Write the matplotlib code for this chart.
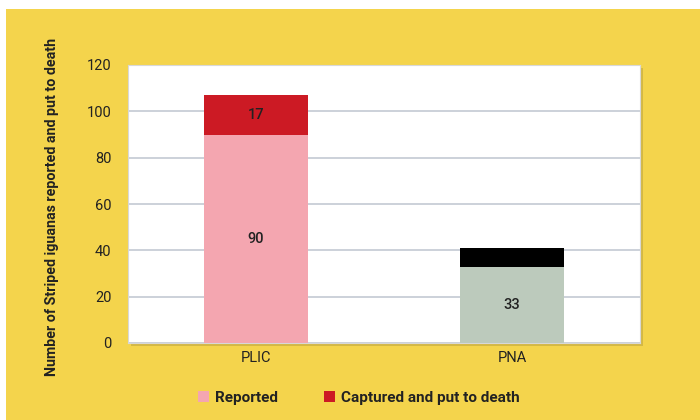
import matplotlib
matplotlib.use("Agg")
import matplotlib.pyplot as plt
from matplotlib.patches import Rectangle, Patch

plt.rcParams['font.family'] = ['Roboto', 'DejaVu Sans']

categories = ["PLIC", "PNA"]
reported = [90, 33]
captured = [17, 8]
reported_labels = ["90", "33"]
captured_labels = ["17", ""]
yticks = [0, 20, 40, 60, 80, 100, 120]
ylabel = "Number of Striped iguanas reported and put to death"
legend_labels = ["Reported", "Captured and put to death"]

reported_colors = ["#F4A6B0", "#BCCABC"]
captured_colors = ["#CC1A24", "#000000"]
bg = "#F4D44C"
txt = "#222222"

fig = plt.figure(figsize=(7, 4.2), dpi=100, facecolor="white")
fig.patches.append(Rectangle((6/700, 0), 1, 1 - 9/420, transform=fig.transFigure,
                             facecolor=bg, edgecolor="none", zorder=-2))
l, b, w, h = 128/700, 77/420, 512/700, 278/420
# shadow
fig.patches.append(Rectangle((l + 2.5/700, b - 2.5/420), w, h, transform=fig.transFigure,
                             facecolor="#D4B844", edgecolor="none", zorder=-1))
ax = fig.add_axes([l, b, w, h])
ax.set_zorder(1)
ax.set_facecolor("white")

x = list(range(len(categories)))
ax.bar(x, reported, width=0.405, color=reported_colors, zorder=3)
ax.bar(x, captured, bottom=reported, width=0.405, color=captured_colors, zorder=3)
for i in x:
    ax.text(i, reported[i] / 2, reported_labels[i], ha="center", va="center",
            fontsize=10.5, fontweight="medium", color=txt, zorder=4)
    if captured_labels[i]:
        ax.text(i, reported[i] + captured[i] / 2, captured_labels[i], ha="center",
                va="center", fontsize=10.5, fontweight="medium", color=txt, zorder=4)

ax.set_xlim(-0.5, 1.5)
ax.set_ylim(0, 120)
ax.set_yticks(yticks)
ax.set_yticklabels([str(t) for t in yticks], fontsize=10.5, color=txt)
ax.set_xticks(x)
ax.set_xticklabels(categories, fontsize=10.5, color=txt)
ax.tick_params(axis="both", length=0)
ax.tick_params(axis="y", pad=12)
ax.tick_params(axis="x", pad=6)
ax.grid(axis="y", color="#C3CAD3", linewidth=1.2, zorder=0)
for s in ax.spines.values():
    s.set_color("#D8D8D8")
    s.set_linewidth(0.8)

fig.text(52/700, 1 - 207/420, ylabel, rotation=90, ha="center", va="center",
         fontsize=10.3, fontweight="bold", color=txt)

handles = [Patch(facecolor=reported_colors[0]), Patch(facecolor=captured_colors[0])]
leg = fig.legend(handles, legend_labels, loc="center", bbox_to_anchor=(359/700, 1 - 398/420),
                 ncol=2, frameon=False, handlelength=0.7, handleheight=0.7,
                 handletextpad=0.4, columnspacing=3.0,
                 prop={"size": 11, "weight": "bold"})
for t in leg.get_texts():
    t.set_color(txt)

fig.savefig("out.png", dpi=100, facecolor="white")
